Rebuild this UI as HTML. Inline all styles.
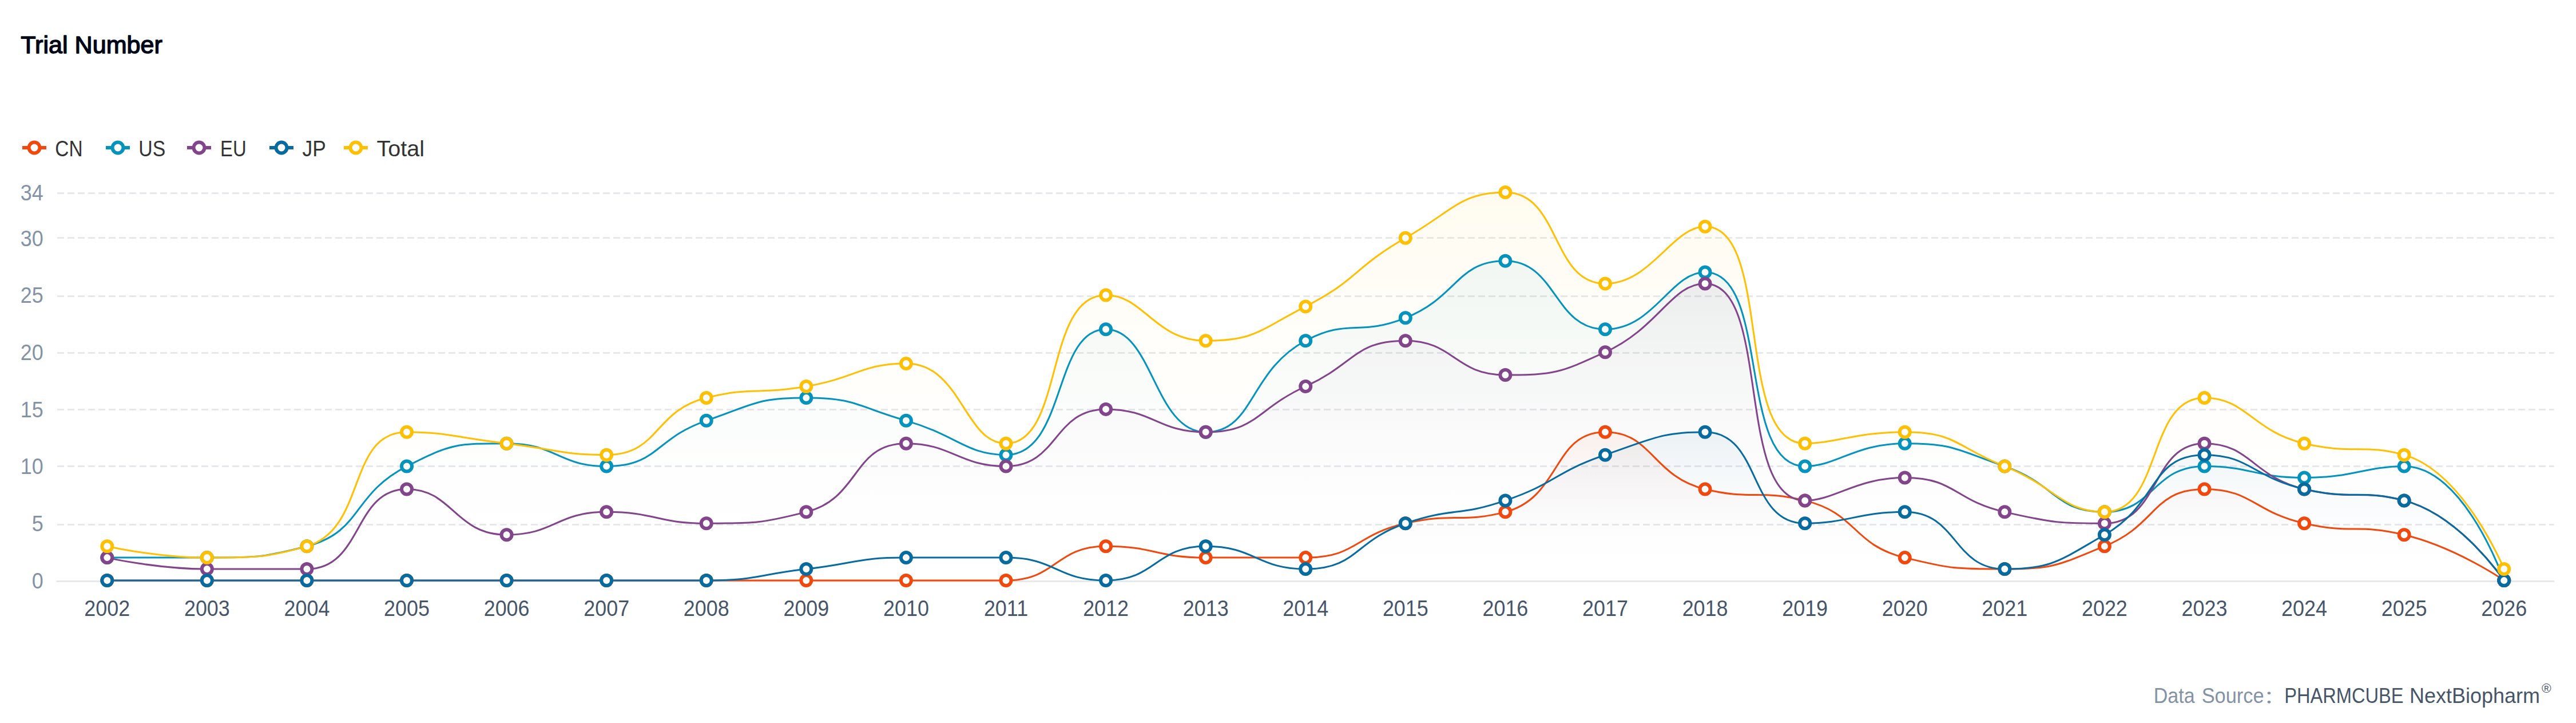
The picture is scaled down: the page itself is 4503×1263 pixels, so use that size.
<!DOCTYPE html>
<html lang="en"><head><meta charset="utf-8"><title>Trial Number</title>
<style>
html,body{margin:0;padding:0;background:#fff;}
body{overflow:hidden;}
svg{display:block;width:100vw;height:auto;}
text{font-family:'Liberation Sans','Noto Sans CJK SC',sans-serif;}
.t{font-weight:400;font-size:43.2px;fill:#020817;stroke:#020817;stroke-width:1.5px;stroke-linejoin:round;}
.lg{font-size:38.4px;fill:#333;}
.yl{font-size:38.8px;fill:#8492A6;text-anchor:end;}
.xl{font-size:38.8px;fill:#475569;text-anchor:middle;}
.f1{font-size:37.5px;fill:#8492A6;}
.f2{font-size:37.5px;fill:#475569;}
.f3{font-size:22.5px;fill:#475569;}
</style></head><body>
<svg width="4503" height="1263" viewBox="0 0 4503 1263" role="img" aria-label="Trial Number">
<rect width="4503" height="1263" fill="#fff"/>
<defs>
<linearGradient id="gCN" gradientUnits="userSpaceOnUse" x1="0" y1="754.76" x2="0" y2="1014"><stop offset="0" stop-color="#F1480E" stop-opacity="0.06"/><stop offset="0.1" stop-color="#F1480E" stop-opacity="0.0486"/><stop offset="0.2" stop-color="#F1480E" stop-opacity="0.0384"/><stop offset="0.3" stop-color="#F1480E" stop-opacity="0.0294"/><stop offset="0.4" stop-color="#F1480E" stop-opacity="0.0216"/><stop offset="0.5" stop-color="#F1480E" stop-opacity="0.015"/><stop offset="0.6" stop-color="#F1480E" stop-opacity="0.0096"/><stop offset="0.7" stop-color="#F1480E" stop-opacity="0.0054"/><stop offset="0.8" stop-color="#F1480E" stop-opacity="0.0024"/><stop offset="0.9" stop-color="#F1480E" stop-opacity="0.0006"/><stop offset="1" stop-color="#F1480E" stop-opacity="0"/></linearGradient>
<linearGradient id="gUS" gradientUnits="userSpaceOnUse" x1="0" y1="455.65" x2="0" y2="1014"><stop offset="0" stop-color="#0393BD" stop-opacity="0.06"/><stop offset="0.1" stop-color="#0393BD" stop-opacity="0.0486"/><stop offset="0.2" stop-color="#0393BD" stop-opacity="0.0384"/><stop offset="0.3" stop-color="#0393BD" stop-opacity="0.0294"/><stop offset="0.4" stop-color="#0393BD" stop-opacity="0.0216"/><stop offset="0.5" stop-color="#0393BD" stop-opacity="0.015"/><stop offset="0.6" stop-color="#0393BD" stop-opacity="0.0096"/><stop offset="0.7" stop-color="#0393BD" stop-opacity="0.0054"/><stop offset="0.8" stop-color="#0393BD" stop-opacity="0.0024"/><stop offset="0.9" stop-color="#0393BD" stop-opacity="0.0006"/><stop offset="1" stop-color="#0393BD" stop-opacity="0"/></linearGradient>
<linearGradient id="gEU" gradientUnits="userSpaceOnUse" x1="0" y1="495.53" x2="0" y2="1014"><stop offset="0" stop-color="#82448A" stop-opacity="0.06"/><stop offset="0.1" stop-color="#82448A" stop-opacity="0.0486"/><stop offset="0.2" stop-color="#82448A" stop-opacity="0.0384"/><stop offset="0.3" stop-color="#82448A" stop-opacity="0.0294"/><stop offset="0.4" stop-color="#82448A" stop-opacity="0.0216"/><stop offset="0.5" stop-color="#82448A" stop-opacity="0.015"/><stop offset="0.6" stop-color="#82448A" stop-opacity="0.0096"/><stop offset="0.7" stop-color="#82448A" stop-opacity="0.0054"/><stop offset="0.8" stop-color="#82448A" stop-opacity="0.0024"/><stop offset="0.9" stop-color="#82448A" stop-opacity="0.0006"/><stop offset="1" stop-color="#82448A" stop-opacity="0"/></linearGradient>
<linearGradient id="gJP" gradientUnits="userSpaceOnUse" x1="0" y1="754.76" x2="0" y2="1014"><stop offset="0" stop-color="#086BA0" stop-opacity="0.06"/><stop offset="0.1" stop-color="#086BA0" stop-opacity="0.0486"/><stop offset="0.2" stop-color="#086BA0" stop-opacity="0.0384"/><stop offset="0.3" stop-color="#086BA0" stop-opacity="0.0294"/><stop offset="0.4" stop-color="#086BA0" stop-opacity="0.0216"/><stop offset="0.5" stop-color="#086BA0" stop-opacity="0.015"/><stop offset="0.6" stop-color="#086BA0" stop-opacity="0.0096"/><stop offset="0.7" stop-color="#086BA0" stop-opacity="0.0054"/><stop offset="0.8" stop-color="#086BA0" stop-opacity="0.0024"/><stop offset="0.9" stop-color="#086BA0" stop-opacity="0.0006"/><stop offset="1" stop-color="#086BA0" stop-opacity="0"/></linearGradient>
<linearGradient id="gTotal" gradientUnits="userSpaceOnUse" x1="0" y1="336" x2="0" y2="1014"><stop offset="0" stop-color="#FFBF02" stop-opacity="0.06"/><stop offset="0.1" stop-color="#FFBF02" stop-opacity="0.0486"/><stop offset="0.2" stop-color="#FFBF02" stop-opacity="0.0384"/><stop offset="0.3" stop-color="#FFBF02" stop-opacity="0.0294"/><stop offset="0.4" stop-color="#FFBF02" stop-opacity="0.0216"/><stop offset="0.5" stop-color="#FFBF02" stop-opacity="0.015"/><stop offset="0.6" stop-color="#FFBF02" stop-opacity="0.0096"/><stop offset="0.7" stop-color="#FFBF02" stop-opacity="0.0054"/><stop offset="0.8" stop-color="#FFBF02" stop-opacity="0.0024"/><stop offset="0.9" stop-color="#FFBF02" stop-opacity="0.0006"/><stop offset="1" stop-color="#FFBF02" stop-opacity="0"/></linearGradient>
</defs>
<g id="chart-title">
<text class="t" transform="translate(36.35 92.6) scale(0.9982 1)">Trial Number</text>
</g>
<g id="legend">
<g><path d="M39 258H81" stroke="#F1480E" stroke-width="6" fill="none"/><circle cx="60" cy="258" r="9.5" fill="#fff" stroke="#F1480E" stroke-width="6"/><text class="lg" transform="translate(96.36 272.7) scale(0.8697 1)">CN</text></g>
<g><path d="M185 258H227" stroke="#0393BD" stroke-width="6" fill="none"/><circle cx="206" cy="258" r="9.5" fill="#fff" stroke="#0393BD" stroke-width="6"/><text class="lg" transform="translate(242.26 272.7) scale(0.8804 1)">US</text></g>
<g><path d="M327 258H369" stroke="#82448A" stroke-width="6" fill="none"/><circle cx="348" cy="258" r="9.5" fill="#fff" stroke="#82448A" stroke-width="6"/><text class="lg" transform="translate(385.02 272.7) scale(0.855 1)">EU</text></g>
<g><path d="M471 258H513" stroke="#086BA0" stroke-width="6" fill="none"/><circle cx="492" cy="258" r="9.5" fill="#fff" stroke="#086BA0" stroke-width="6"/><text class="lg" transform="translate(528.61 272.7) scale(0.9214 1)">JP</text></g>
<g><path d="M601 258H643" stroke="#FFBF02" stroke-width="6" fill="none"/><circle cx="622" cy="258" r="9.5" fill="#fff" stroke="#FFBF02" stroke-width="6"/><text class="lg" transform="translate(658.43 272.7) scale(1.0302 1)">Total</text></g>
</g>
<g id="split-lines" stroke="#E6E8EC" stroke-width="3" fill="none" stroke-dasharray="12 6">
<path d="M100 337.5H4464.5"/>
<path d="M100 415.5H4464.5"/>
<path d="M100 517.5H4464.5"/>
<path d="M100 616.5H4464.5"/>
<path d="M100 715.5H4464.5"/>
<path d="M100 814.5H4464.5"/>
<path d="M100 916.5H4464.5"/>
</g>
<path id="x-axis-line" d="M98.5 1015.5H4465" stroke="#E6E8EC" stroke-width="3" fill="none"/>
<g id="y-axis-labels">
<text class="yl" transform="translate(75.8 1027.8) scale(0.9255 1)">0</text>
<text class="yl" transform="translate(75.8 928.09) scale(0.9255 1)">5</text>
<text class="yl" transform="translate(75.8 828.39) scale(0.9255 1)">10</text>
<text class="yl" transform="translate(75.8 728.68) scale(0.9255 1)">15</text>
<text class="yl" transform="translate(75.8 628.98) scale(0.9255 1)">20</text>
<text class="yl" transform="translate(75.8 529.27) scale(0.9255 1)">25</text>
<text class="yl" transform="translate(75.8 429.56) scale(0.9255 1)">30</text>
<text class="yl" transform="translate(75.8 349.8) scale(0.9255 1)">34</text>
</g>
<g id="series-areas">
<path d="M187.29 1014 C187.29 1014 274.58 1014 361.87 1014 C449.16 1014 449.16 1014 536.45 1014 C623.74 1014 623.74 1014 711.03 1014 C798.32 1014 798.32 1014 885.61 1014 C972.9 1014 972.9 1014 1060.19 1014 C1147.48 1014 1147.48 1014 1234.77 1014 C1322.06 1014 1322.06 1014 1409.35 1014 C1496.64 1014 1496.64 1014 1583.93 1014 C1671.22 1014 1673.64 1014 1758.51 1014 C1848.22 1014 1843.66 954.18 1933.09 954.18 C2018.24 954.18 2020.1 974.12 2107.67 974.12 C2194.68 974.12 2197.38 974.12 2282.25 974.12 C2371.96 974.12 2367.4 934.72 2456.83 914.29 C2541.98 894.84 2554.57 914.29 2631.41 894.35 C2729.15 868.99 2714.08 754.76 2805.99 754.76 C2888.66 754.76 2887.41 831.65 2980.57 854.47 C3061.99 874.41 3073.73 854.47 3155.15 874.41 C3248.31 897.23 3236.57 951.3 3329.73 974.12 C3411.15 994.06 3417.85 994.06 3504.31 994.06 C3592.43 994.06 3596.64 987.06 3678.89 954.18 C3771.22 917.26 3762.44 854.47 3853.47 854.47 C3937.02 854.47 3938.62 893.86 4028.05 914.29 C4113.2 933.75 4119.19 914.29 4202.63 934.24 C4293.77 956.02 4377.21 1014 4377.21 1014 L4377.21 1014 L187.29 1014 Z" fill="url(#gCN)" stroke="none"/>
<path d="M187.29 974.12 C187.29 974.12 274.86 974.12 361.87 974.12 C449.44 974.12 459.61 974.12 536.45 954.18 C634.19 928.81 614.1 864.37 711.03 814.59 C788.68 774.71 798.32 774.71 885.61 774.71 C972.9 774.71 975.93 814.59 1060.19 814.59 C1150.51 814.59 1144.45 765.77 1234.77 734.82 C1319.03 705.95 1322.06 694.94 1409.35 694.94 C1496.64 694.94 1497.95 710.27 1583.93 734.82 C1672.53 760.12 1689.21 794.65 1758.51 794.65 C1863.79 794.65 1840.87 575.29 1933.09 575.29 C2015.45 575.29 2017.89 754.76 2107.67 754.76 C2192.47 754.76 2182.9 647.9 2282.25 595.24 C2357.48 555.35 2374.58 588.23 2456.83 555.35 C2549.16 518.44 2546.36 455.65 2631.41 455.65 C2720.94 455.65 2716.46 575.29 2805.99 575.29 C2891.04 575.29 2920.3 475.59 2980.57 475.59 C3094.88 475.59 3036.36 814.59 3155.15 814.59 C3210.94 814.59 3242.44 774.71 3329.73 774.71 C3417.02 774.71 3420.05 785.71 3504.31 814.59 C3594.63 845.54 3591.6 894.35 3678.89 894.35 C3766.18 894.35 3762.33 814.59 3853.47 814.59 C3936.91 814.59 3940.76 834.53 4028.05 834.53 C4115.34 834.53 4133.03 814.59 4202.63 814.59 C4307.61 814.59 4377.21 1014 4377.21 1014 L4377.21 1014 L187.29 1014 Z" fill="url(#gUS)" stroke="none"/>
<path d="M187.29 974.12 C187.29 974.12 274.3 994.06 361.87 994.06 C448.88 994.06 459.89 994.06 536.45 994.06 C634.47 994.06 617.1 854.47 711.03 854.47 C791.68 854.47 795.29 934.24 885.61 934.24 C969.87 934.24 972.07 894.35 1060.19 894.35 C1146.65 894.35 1147.48 914.29 1234.77 914.29 C1322.06 914.29 1330.16 914.29 1409.35 894.35 C1504.74 870.33 1489.36 774.71 1583.93 774.71 C1663.94 774.71 1676.26 814.59 1758.51 814.59 C1850.84 814.59 1840.76 714.88 1933.09 714.88 C2015.34 714.88 2023.41 754.76 2107.67 754.76 C2197.99 754.76 2194.96 714.88 2282.25 675 C2369.54 635.12 2367.83 595.24 2456.83 595.24 C2542.41 595.24 2542.81 655.06 2631.41 655.06 C2717.39 655.06 2725.98 651.73 2805.99 615.18 C2900.56 571.97 2921.81 495.53 2980.57 495.53 C3096.39 495.53 3033 874.41 3155.15 874.41 C3207.58 874.41 3243.75 834.53 3329.73 834.53 C3418.33 834.53 3414.88 873.92 3504.31 894.35 C3589.46 913.81 3602.05 914.29 3678.89 914.29 C3776.63 914.29 3759.54 774.71 3853.47 774.71 C3934.12 774.71 3936.91 832.69 4028.05 854.47 C4111.49 874.41 4125.79 854.47 4202.63 874.41 C4300.37 899.78 4377.21 1014 4377.21 1014 L4377.21 1014 L187.29 1014 Z" fill="url(#gEU)" stroke="none"/>
<path d="M187.29 1014 C187.29 1014 274.58 1014 361.87 1014 C449.16 1014 449.16 1014 536.45 1014 C623.74 1014 623.74 1014 711.03 1014 C798.32 1014 798.32 1014 885.61 1014 C972.9 1014 972.9 1014 1060.19 1014 C1147.48 1014 1147.76 1014 1234.77 1014 C1322.34 1014 1322.06 1004.03 1409.35 994.06 C1496.64 984.09 1496.36 974.12 1583.93 974.12 C1670.94 974.12 1672.33 974.12 1758.51 974.12 C1846.91 974.12 1847.11 1014 1933.09 1014 C2021.69 1014 2019.07 954.18 2107.67 954.18 C2193.65 954.18 2197.99 994.06 2282.25 994.06 C2372.57 994.06 2366.51 945.24 2456.83 914.29 C2541.09 885.42 2547.15 903.29 2631.41 874.41 C2721.73 843.46 2715.67 825.6 2805.99 794.65 C2890.25 765.77 2905.34 754.76 2980.57 754.76 C3079.92 754.76 3054.99 914.29 3155.15 914.29 C3229.57 914.29 3248.31 894.35 3329.73 894.35 C3422.89 894.35 3413.28 994.06 3504.31 994.06 C3587.86 994.06 3599.94 979.33 3678.89 934.24 C3774.52 879.62 3757.84 794.65 3853.47 794.65 C3932.42 794.65 3938.62 834.04 4028.05 854.47 C4113.2 873.92 4125.79 854.47 4202.63 874.41 C4300.37 899.78 4377.21 1014 4377.21 1014 L4377.21 1014 L187.29 1014 Z" fill="url(#gJP)" stroke="none"/>
<path d="M187.29 954.18 C187.29 954.18 274.58 974.12 361.87 974.12 C449.16 974.12 466.85 974.12 536.45 954.18 C641.43 924.1 606.05 754.76 711.03 754.76 C780.63 754.76 798.32 764.74 885.61 774.71 C972.9 784.68 978.77 794.65 1060.19 794.65 C1153.35 794.65 1141.61 717.76 1234.77 694.94 C1316.19 675 1322.89 689.81 1409.35 675 C1497.47 659.9 1506.28 635.12 1583.93 635.12 C1680.86 635.12 1685.71 774.71 1758.51 774.71 C1860.29 774.71 1824.93 515.47 1933.09 515.47 C1999.51 515.47 2018.67 595.24 2107.67 595.24 C2193.25 595.24 2200.93 577.21 2282.25 535.41 C2375.51 487.48 2365.28 468.05 2456.83 415.76 C2539.86 368.35 2553.2 336 2631.41 336 C2727.78 336 2711.63 495.53 2805.99 495.53 C2886.21 495.53 2923.8 395.82 2980.57 395.82 C3098.38 395.82 3032.31 774.71 3155.15 774.71 C3206.89 774.71 3244.58 754.76 3329.73 754.76 C3419.16 754.76 3418.73 780.38 3504.31 814.59 C3593.31 850.17 3605.56 894.35 3678.89 894.35 C3780.14 894.35 3752.22 694.94 3853.47 694.94 C3926.8 694.94 3936.91 752.92 4028.05 774.71 C4111.49 794.65 4133.03 774.71 4202.63 794.65 C4307.61 824.72 4377.21 994.06 4377.21 994.06 L4377.21 1014 L187.29 1014 Z" fill="url(#gTotal)" stroke="none"/>
</g>
<g id="series-lines">
<path d="M187.29 1014 C187.29 1014 274.58 1014 361.87 1014 C449.16 1014 449.16 1014 536.45 1014 C623.74 1014 623.74 1014 711.03 1014 C798.32 1014 798.32 1014 885.61 1014 C972.9 1014 972.9 1014 1060.19 1014 C1147.48 1014 1147.48 1014 1234.77 1014 C1322.06 1014 1322.06 1014 1409.35 1014 C1496.64 1014 1496.64 1014 1583.93 1014 C1671.22 1014 1673.64 1014 1758.51 1014 C1848.22 1014 1843.66 954.18 1933.09 954.18 C2018.24 954.18 2020.1 974.12 2107.67 974.12 C2194.68 974.12 2197.38 974.12 2282.25 974.12 C2371.96 974.12 2367.4 934.72 2456.83 914.29 C2541.98 894.84 2554.57 914.29 2631.41 894.35 C2729.15 868.99 2714.08 754.76 2805.99 754.76 C2888.66 754.76 2887.41 831.65 2980.57 854.47 C3061.99 874.41 3073.73 854.47 3155.15 874.41 C3248.31 897.23 3236.57 951.3 3329.73 974.12 C3411.15 994.06 3417.85 994.06 3504.31 994.06 C3592.43 994.06 3596.64 987.06 3678.89 954.18 C3771.22 917.26 3762.44 854.47 3853.47 854.47 C3937.02 854.47 3938.62 893.86 4028.05 914.29 C4113.2 933.75 4119.19 914.29 4202.63 934.24 C4293.77 956.02 4377.21 1014 4377.21 1014" fill="none" stroke="#F1480E" stroke-width="3" stroke-linejoin="bevel"/>
<path d="M187.29 974.12 C187.29 974.12 274.86 974.12 361.87 974.12 C449.44 974.12 459.61 974.12 536.45 954.18 C634.19 928.81 614.1 864.37 711.03 814.59 C788.68 774.71 798.32 774.71 885.61 774.71 C972.9 774.71 975.93 814.59 1060.19 814.59 C1150.51 814.59 1144.45 765.77 1234.77 734.82 C1319.03 705.95 1322.06 694.94 1409.35 694.94 C1496.64 694.94 1497.95 710.27 1583.93 734.82 C1672.53 760.12 1689.21 794.65 1758.51 794.65 C1863.79 794.65 1840.87 575.29 1933.09 575.29 C2015.45 575.29 2017.89 754.76 2107.67 754.76 C2192.47 754.76 2182.9 647.9 2282.25 595.24 C2357.48 555.35 2374.58 588.23 2456.83 555.35 C2549.16 518.44 2546.36 455.65 2631.41 455.65 C2720.94 455.65 2716.46 575.29 2805.99 575.29 C2891.04 575.29 2920.3 475.59 2980.57 475.59 C3094.88 475.59 3036.36 814.59 3155.15 814.59 C3210.94 814.59 3242.44 774.71 3329.73 774.71 C3417.02 774.71 3420.05 785.71 3504.31 814.59 C3594.63 845.54 3591.6 894.35 3678.89 894.35 C3766.18 894.35 3762.33 814.59 3853.47 814.59 C3936.91 814.59 3940.76 834.53 4028.05 834.53 C4115.34 834.53 4133.03 814.59 4202.63 814.59 C4307.61 814.59 4377.21 1014 4377.21 1014" fill="none" stroke="#0393BD" stroke-width="3" stroke-linejoin="bevel"/>
<path d="M187.29 974.12 C187.29 974.12 274.3 994.06 361.87 994.06 C448.88 994.06 459.89 994.06 536.45 994.06 C634.47 994.06 617.1 854.47 711.03 854.47 C791.68 854.47 795.29 934.24 885.61 934.24 C969.87 934.24 972.07 894.35 1060.19 894.35 C1146.65 894.35 1147.48 914.29 1234.77 914.29 C1322.06 914.29 1330.16 914.29 1409.35 894.35 C1504.74 870.33 1489.36 774.71 1583.93 774.71 C1663.94 774.71 1676.26 814.59 1758.51 814.59 C1850.84 814.59 1840.76 714.88 1933.09 714.88 C2015.34 714.88 2023.41 754.76 2107.67 754.76 C2197.99 754.76 2194.96 714.88 2282.25 675 C2369.54 635.12 2367.83 595.24 2456.83 595.24 C2542.41 595.24 2542.81 655.06 2631.41 655.06 C2717.39 655.06 2725.98 651.73 2805.99 615.18 C2900.56 571.97 2921.81 495.53 2980.57 495.53 C3096.39 495.53 3033 874.41 3155.15 874.41 C3207.58 874.41 3243.75 834.53 3329.73 834.53 C3418.33 834.53 3414.88 873.92 3504.31 894.35 C3589.46 913.81 3602.05 914.29 3678.89 914.29 C3776.63 914.29 3759.54 774.71 3853.47 774.71 C3934.12 774.71 3936.91 832.69 4028.05 854.47 C4111.49 874.41 4125.79 854.47 4202.63 874.41 C4300.37 899.78 4377.21 1014 4377.21 1014" fill="none" stroke="#82448A" stroke-width="3" stroke-linejoin="bevel"/>
<path d="M187.29 1014 C187.29 1014 274.58 1014 361.87 1014 C449.16 1014 449.16 1014 536.45 1014 C623.74 1014 623.74 1014 711.03 1014 C798.32 1014 798.32 1014 885.61 1014 C972.9 1014 972.9 1014 1060.19 1014 C1147.48 1014 1147.76 1014 1234.77 1014 C1322.34 1014 1322.06 1004.03 1409.35 994.06 C1496.64 984.09 1496.36 974.12 1583.93 974.12 C1670.94 974.12 1672.33 974.12 1758.51 974.12 C1846.91 974.12 1847.11 1014 1933.09 1014 C2021.69 1014 2019.07 954.18 2107.67 954.18 C2193.65 954.18 2197.99 994.06 2282.25 994.06 C2372.57 994.06 2366.51 945.24 2456.83 914.29 C2541.09 885.42 2547.15 903.29 2631.41 874.41 C2721.73 843.46 2715.67 825.6 2805.99 794.65 C2890.25 765.77 2905.34 754.76 2980.57 754.76 C3079.92 754.76 3054.99 914.29 3155.15 914.29 C3229.57 914.29 3248.31 894.35 3329.73 894.35 C3422.89 894.35 3413.28 994.06 3504.31 994.06 C3587.86 994.06 3599.94 979.33 3678.89 934.24 C3774.52 879.62 3757.84 794.65 3853.47 794.65 C3932.42 794.65 3938.62 834.04 4028.05 854.47 C4113.2 873.92 4125.79 854.47 4202.63 874.41 C4300.37 899.78 4377.21 1014 4377.21 1014" fill="none" stroke="#086BA0" stroke-width="3" stroke-linejoin="bevel"/>
<path d="M187.29 954.18 C187.29 954.18 274.58 974.12 361.87 974.12 C449.16 974.12 466.85 974.12 536.45 954.18 C641.43 924.1 606.05 754.76 711.03 754.76 C780.63 754.76 798.32 764.74 885.61 774.71 C972.9 784.68 978.77 794.65 1060.19 794.65 C1153.35 794.65 1141.61 717.76 1234.77 694.94 C1316.19 675 1322.89 689.81 1409.35 675 C1497.47 659.9 1506.28 635.12 1583.93 635.12 C1680.86 635.12 1685.71 774.71 1758.51 774.71 C1860.29 774.71 1824.93 515.47 1933.09 515.47 C1999.51 515.47 2018.67 595.24 2107.67 595.24 C2193.25 595.24 2200.93 577.21 2282.25 535.41 C2375.51 487.48 2365.28 468.05 2456.83 415.76 C2539.86 368.35 2553.2 336 2631.41 336 C2727.78 336 2711.63 495.53 2805.99 495.53 C2886.21 495.53 2923.8 395.82 2980.57 395.82 C3098.38 395.82 3032.31 774.71 3155.15 774.71 C3206.89 774.71 3244.58 754.76 3329.73 754.76 C3419.16 754.76 3418.73 780.38 3504.31 814.59 C3593.31 850.17 3605.56 894.35 3678.89 894.35 C3780.14 894.35 3752.22 694.94 3853.47 694.94 C3926.8 694.94 3936.91 752.92 4028.05 774.71 C4111.49 794.65 4133.03 774.71 4202.63 794.65 C4307.61 824.72 4377.21 994.06 4377.21 994.06" fill="none" stroke="#FFBF02" stroke-width="3" stroke-linejoin="bevel"/>
</g>
<g id="series-symbols">
<g fill="#fff" stroke="#F1480E" stroke-width="6">
<circle cx="187.29" cy="1014" r="9"/><circle cx="361.87" cy="1014" r="9"/><circle cx="536.45" cy="1014" r="9"/><circle cx="711.03" cy="1014" r="9"/><circle cx="885.61" cy="1014" r="9"/><circle cx="1060.19" cy="1014" r="9"/><circle cx="1234.77" cy="1014" r="9"/><circle cx="1409.35" cy="1014" r="9"/><circle cx="1583.93" cy="1014" r="9"/><circle cx="1758.51" cy="1014" r="9"/><circle cx="1933.09" cy="954.18" r="9"/><circle cx="2107.67" cy="974.12" r="9"/><circle cx="2282.25" cy="974.12" r="9"/><circle cx="2456.83" cy="914.29" r="9"/><circle cx="2631.41" cy="894.35" r="9"/><circle cx="2805.99" cy="754.76" r="9"/><circle cx="2980.57" cy="854.47" r="9"/><circle cx="3155.15" cy="874.41" r="9"/><circle cx="3329.73" cy="974.12" r="9"/><circle cx="3504.31" cy="994.06" r="9"/><circle cx="3678.89" cy="954.18" r="9"/><circle cx="3853.47" cy="854.47" r="9"/><circle cx="4028.05" cy="914.29" r="9"/><circle cx="4202.63" cy="934.24" r="9"/><circle cx="4377.21" cy="1014" r="9"/>
</g>
<g fill="#fff" stroke="#0393BD" stroke-width="6">
<circle cx="187.29" cy="974.12" r="9"/><circle cx="361.87" cy="974.12" r="9"/><circle cx="536.45" cy="954.18" r="9"/><circle cx="711.03" cy="814.59" r="9"/><circle cx="885.61" cy="774.71" r="9"/><circle cx="1060.19" cy="814.59" r="9"/><circle cx="1234.77" cy="734.82" r="9"/><circle cx="1409.35" cy="694.94" r="9"/><circle cx="1583.93" cy="734.82" r="9"/><circle cx="1758.51" cy="794.65" r="9"/><circle cx="1933.09" cy="575.29" r="9"/><circle cx="2107.67" cy="754.76" r="9"/><circle cx="2282.25" cy="595.24" r="9"/><circle cx="2456.83" cy="555.35" r="9"/><circle cx="2631.41" cy="455.65" r="9"/><circle cx="2805.99" cy="575.29" r="9"/><circle cx="2980.57" cy="475.59" r="9"/><circle cx="3155.15" cy="814.59" r="9"/><circle cx="3329.73" cy="774.71" r="9"/><circle cx="3504.31" cy="814.59" r="9"/><circle cx="3678.89" cy="894.35" r="9"/><circle cx="3853.47" cy="814.59" r="9"/><circle cx="4028.05" cy="834.53" r="9"/><circle cx="4202.63" cy="814.59" r="9"/><circle cx="4377.21" cy="1014" r="9"/>
</g>
<g fill="#fff" stroke="#82448A" stroke-width="6">
<circle cx="187.29" cy="974.12" r="9"/><circle cx="361.87" cy="994.06" r="9"/><circle cx="536.45" cy="994.06" r="9"/><circle cx="711.03" cy="854.47" r="9"/><circle cx="885.61" cy="934.24" r="9"/><circle cx="1060.19" cy="894.35" r="9"/><circle cx="1234.77" cy="914.29" r="9"/><circle cx="1409.35" cy="894.35" r="9"/><circle cx="1583.93" cy="774.71" r="9"/><circle cx="1758.51" cy="814.59" r="9"/><circle cx="1933.09" cy="714.88" r="9"/><circle cx="2107.67" cy="754.76" r="9"/><circle cx="2282.25" cy="675" r="9"/><circle cx="2456.83" cy="595.24" r="9"/><circle cx="2631.41" cy="655.06" r="9"/><circle cx="2805.99" cy="615.18" r="9"/><circle cx="2980.57" cy="495.53" r="9"/><circle cx="3155.15" cy="874.41" r="9"/><circle cx="3329.73" cy="834.53" r="9"/><circle cx="3504.31" cy="894.35" r="9"/><circle cx="3678.89" cy="914.29" r="9"/><circle cx="3853.47" cy="774.71" r="9"/><circle cx="4028.05" cy="854.47" r="9"/><circle cx="4202.63" cy="874.41" r="9"/><circle cx="4377.21" cy="1014" r="9"/>
</g>
<g fill="#fff" stroke="#086BA0" stroke-width="6">
<circle cx="187.29" cy="1014" r="9"/><circle cx="361.87" cy="1014" r="9"/><circle cx="536.45" cy="1014" r="9"/><circle cx="711.03" cy="1014" r="9"/><circle cx="885.61" cy="1014" r="9"/><circle cx="1060.19" cy="1014" r="9"/><circle cx="1234.77" cy="1014" r="9"/><circle cx="1409.35" cy="994.06" r="9"/><circle cx="1583.93" cy="974.12" r="9"/><circle cx="1758.51" cy="974.12" r="9"/><circle cx="1933.09" cy="1014" r="9"/><circle cx="2107.67" cy="954.18" r="9"/><circle cx="2282.25" cy="994.06" r="9"/><circle cx="2456.83" cy="914.29" r="9"/><circle cx="2631.41" cy="874.41" r="9"/><circle cx="2805.99" cy="794.65" r="9"/><circle cx="2980.57" cy="754.76" r="9"/><circle cx="3155.15" cy="914.29" r="9"/><circle cx="3329.73" cy="894.35" r="9"/><circle cx="3504.31" cy="994.06" r="9"/><circle cx="3678.89" cy="934.24" r="9"/><circle cx="3853.47" cy="794.65" r="9"/><circle cx="4028.05" cy="854.47" r="9"/><circle cx="4202.63" cy="874.41" r="9"/><circle cx="4377.21" cy="1014" r="9"/>
</g>
<g fill="#fff" stroke="#FFBF02" stroke-width="6">
<circle cx="187.29" cy="954.18" r="9"/><circle cx="361.87" cy="974.12" r="9"/><circle cx="536.45" cy="954.18" r="9"/><circle cx="711.03" cy="754.76" r="9"/><circle cx="885.61" cy="774.71" r="9"/><circle cx="1060.19" cy="794.65" r="9"/><circle cx="1234.77" cy="694.94" r="9"/><circle cx="1409.35" cy="675" r="9"/><circle cx="1583.93" cy="635.12" r="9"/><circle cx="1758.51" cy="774.71" r="9"/><circle cx="1933.09" cy="515.47" r="9"/><circle cx="2107.67" cy="595.24" r="9"/><circle cx="2282.25" cy="535.41" r="9"/><circle cx="2456.83" cy="415.76" r="9"/><circle cx="2631.41" cy="336" r="9"/><circle cx="2805.99" cy="495.53" r="9"/><circle cx="2980.57" cy="395.82" r="9"/><circle cx="3155.15" cy="774.71" r="9"/><circle cx="3329.73" cy="754.76" r="9"/><circle cx="3504.31" cy="814.59" r="9"/><circle cx="3678.89" cy="894.35" r="9"/><circle cx="3853.47" cy="694.94" r="9"/><circle cx="4028.05" cy="774.71" r="9"/><circle cx="4202.63" cy="794.65" r="9"/><circle cx="4377.21" cy="994.06" r="9"/>
</g>
</g>
<g id="x-axis-labels">
<text class="xl" transform="translate(187.29 1076) scale(0.9255 1)">2002</text>
<text class="xl" transform="translate(361.87 1076) scale(0.9255 1)">2003</text>
<text class="xl" transform="translate(536.45 1076) scale(0.9255 1)">2004</text>
<text class="xl" transform="translate(711.03 1076) scale(0.9255 1)">2005</text>
<text class="xl" transform="translate(885.61 1076) scale(0.9255 1)">2006</text>
<text class="xl" transform="translate(1060.19 1076) scale(0.9255 1)">2007</text>
<text class="xl" transform="translate(1234.77 1076) scale(0.9255 1)">2008</text>
<text class="xl" transform="translate(1409.35 1076) scale(0.9255 1)">2009</text>
<text class="xl" transform="translate(1583.93 1076) scale(0.9255 1)">2010</text>
<text class="xl" transform="translate(1758.51 1076) scale(0.9255 1)">2011</text>
<text class="xl" transform="translate(1933.09 1076) scale(0.9255 1)">2012</text>
<text class="xl" transform="translate(2107.67 1076) scale(0.9255 1)">2013</text>
<text class="xl" transform="translate(2282.25 1076) scale(0.9255 1)">2014</text>
<text class="xl" transform="translate(2456.83 1076) scale(0.9255 1)">2015</text>
<text class="xl" transform="translate(2631.41 1076) scale(0.9255 1)">2016</text>
<text class="xl" transform="translate(2805.99 1076) scale(0.9255 1)">2017</text>
<text class="xl" transform="translate(2980.57 1076) scale(0.9255 1)">2018</text>
<text class="xl" transform="translate(3155.15 1076) scale(0.9255 1)">2019</text>
<text class="xl" transform="translate(3329.73 1076) scale(0.9255 1)">2020</text>
<text class="xl" transform="translate(3504.31 1076) scale(0.9255 1)">2021</text>
<text class="xl" transform="translate(3678.89 1076) scale(0.9255 1)">2022</text>
<text class="xl" transform="translate(3853.47 1076) scale(0.9255 1)">2023</text>
<text class="xl" transform="translate(4028.05 1076) scale(0.9255 1)">2024</text>
<text class="xl" transform="translate(4202.63 1076) scale(0.9255 1)">2025</text>
<text class="xl" transform="translate(4377.21 1076) scale(0.9255 1)">2026</text>
</g>
<g id="source-note">
<text class="f1" y="1228"><tspan x="3764.78" textLength="71.79" lengthAdjust="spacingAndGlyphs">Data</tspan> <tspan x="3848.7" textLength="108.85" lengthAdjust="spacingAndGlyphs">Source</tspan></text>
<text class="f1" transform="translate(3957 1228.3) scale(1 0.82)">：</text>
<text class="f2" y="1228"><tspan x="3993.29" textLength="208.32" lengthAdjust="spacingAndGlyphs">PHARMCUBE</tspan> <tspan x="4212.02" textLength="227.94" lengthAdjust="spacingAndGlyphs">NextBiopharm</tspan></text>
<text class="f3" x="4443" y="1210">®</text>
</g>
</svg></body></html>
